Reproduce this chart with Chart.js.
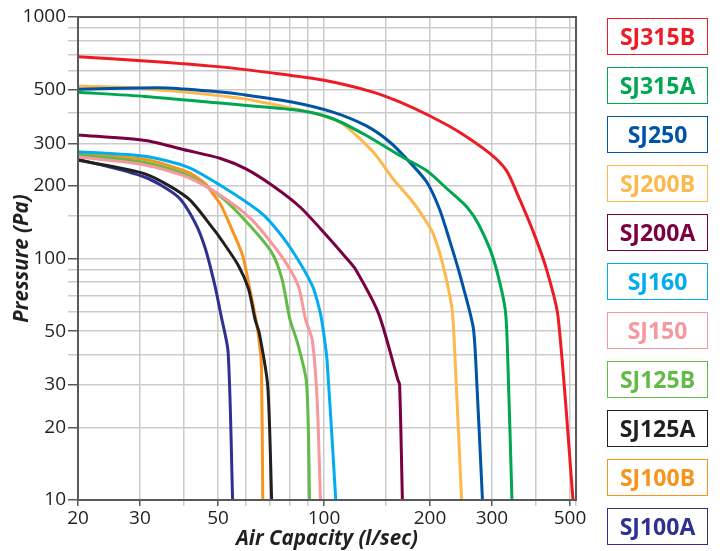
<!DOCTYPE html>
<html>
<head>
<meta charset="utf-8">
<script src="https://cdn.jsdelivr.net/npm/chart.js@4"></script>
<style>
  body { margin: 0; background: #fff; }
  #main { position: relative; width: 722px; height: 551px; }
  #legend-div { position: absolute; left: 607px; top: 18px; }
  .legend-box {
    box-sizing: border-box;
    width: 101px; height: 37px;
    margin-bottom: 12px;
    border: 1.5px solid;
    font-family: 'Open Sans', sans-serif;
    font-weight: bold;
    font-size: 23px;
    line-height: 34px;
    text-align: center;
  }
</style>
</head>
<body>
<div id="main">
  <canvas id="fanCurves" width="722" height="551"></canvas>
  <div id="legend-div"></div>
</div>
<script>

// air capacity (l/sec) and pressure (Pa)
const sj315bX = [20, 31, 50, 71, 100, 137, 164, 200, 242, 297, 330, 356, 394, 429, 462, 510];
const sj315bY = [684, 658, 623, 587, 547, 490, 445, 389, 334, 271, 231, 182, 128, 90, 58, 10];

const sj315aX = [20, 31, 50.5, 85.5, 106, 132, 164, 196, 224, 255, 276, 303, 327, 333, 342];
const sj315aY = [488, 469, 440, 410, 379, 323, 267, 231, 194, 163, 137, 99.5, 62, 37, 10];

const sj250X = [20, 30, 36, 50, 59, 81, 106, 132, 154, 175, 196, 213, 227, 242, 265, 270, 282];
const sj250Y = [502, 508, 508, 490, 477, 445, 404, 354, 303, 251, 207, 160, 120, 88, 52.6, 37, 10];

const sj200bX = [20, 31, 59, 90, 100, 113, 138, 157, 179, 196, 205, 217, 231, 236, 246];
const sj200bY = [518, 505, 459, 405, 389, 361, 276, 214, 171, 141, 125, 96, 62, 37, 10];

const sj200aX = [20, 31, 41, 50.6, 60, 71.5, 85.6, 102, 116, 123, 143, 162, 164, 167];
const sj200aY = [325, 308, 280, 260, 235, 200, 163, 124, 100, 90, 59, 31.6, 30, 10];

const sj160X = [20, 31, 41, 51, 65, 70.6, 80.5, 92.7, 97.5, 99.4, 102, 108];
const sj160Y = [277, 265, 239, 200, 158, 141, 110, 77, 60, 51, 38, 10];

const sj150X = [20, 31, 41, 51, 62, 73, 80.5, 85, 88.6, 92.6, 95.6, 97.7];
const sj150Y = [263, 244, 217, 182, 146, 110, 89, 75, 56, 46, 26, 10];

const sj125bX = [20, 31, 41, 51, 61, 71, 76, 80, 84, 89.2, 91];
const sj125bY = [269, 250, 221, 180, 139, 106, 82, 56, 45, 30.6, 10];

const sj125aX = [20, 31, 41, 48.6, 51, 57, 61, 63.7, 65.5, 69.2, 71];
const sj125aY = [255, 224, 178, 132, 120, 94, 75, 56, 49, 29.6, 10];

const sj100bX = [20, 31, 41, 46, 48, 51, 54.6, 58.7, 61.3, 64, 65.5, 66.4, 67];
const sj100bY = [271, 257, 228, 204, 188, 166, 133, 103, 77, 56, 45, 36, 10];

const sj100aX = [20, 31, 38.5, 43, 46, 49, 51, 53.4, 55];
const sj100aY = [258, 217, 180, 141, 110, 77, 58, 41, 10];

const models = ['SJ315B', 'SJ315A', 'SJ250', 'SJ200B', 'SJ200A', 'SJ160', 'SJ150', 'SJ125B', 'SJ125A', 'SJ100B', 'SJ100A'];
const colors = ['#ed1c24', '#00a651', '#0054a6', '#fdb94e', '#7a0042', '#00aeef', '#f6989d', '#62bb46', '#231f20', '#f7941d', '#2e3192'];
const seriesX = [sj315bX, sj315aX, sj250X, sj200bX, sj200aX, sj160X, sj150X, sj125bX, sj125aX, sj100bX, sj100aX];
const seriesY = [sj315bY, sj315aY, sj250Y, sj200bY, sj200aY, sj160Y, sj150Y, sj125bY, sj125aY, sj100bY, sj100aY];

const xTickLabels = [20, 30, 50, 100, 200, 300, 500];
const yTickLabels = [10, 20, 30, 50, 100, 200, 300, 500, 1000];

const gridColor = '#cbcbce';
const axisColor = '#58595b';

function makePoints(xs, ys) {
  let pts = [];
  for (var i = 0; i < xs.length; i++) {
    pts.push({x: xs[i], y: ys[i]});
  }
  return pts;
}

let datasets = [];
for (var i = 0; i < models.length; i++) {
  datasets.push({
    label: models[i],
    data: makePoints(seriesX[i], seriesY[i]),
    borderColor: colors[i],
    backgroundColor: colors[i],
    borderWidth: 3,
    pointRadius: 0,
    tension: 0.25
  });
}

// box round the whole plot area
const frame = {
  id: 'frame',
  afterDatasetsDraw(chart) {
    const a = chart.chartArea;
    const ctx = chart.ctx;
    ctx.save();
    ctx.strokeStyle = axisColor;
    ctx.lineWidth = 2;
    ctx.strokeRect(a.left, a.top, a.right - a.left, a.bottom - a.top);
    ctx.restore();
  }
};

function buildLegend(chart) {
  let legendDiv = document.getElementById('legend-div');
  chart.data.datasets.forEach(ds => {
    let box = document.createElement('div');
    box.setAttribute('class', 'legend-box');
    box.style.color = ds.borderColor;
    box.style.borderColor = ds.borderColor;
    box.textContent = ds.label;
    legendDiv.appendChild(box);
  });
}

const titleFont = { family: "'Open Sans', sans-serif", size: 20.5, weight: 'bold', style: 'italic' };

const ctx = document.getElementById('fanCurves');
const chart = new Chart(ctx, {
  type: 'line',
  data: { datasets: datasets },
  plugins: [frame],
  options: {
    responsive: false,
    animation: false,
    layout: { padding: { top: 17, right: 146, left: 0, bottom: 0 } },
    plugins: { legend: { display: false }, tooltip: { enabled: false } },
    scales: {
      x: {
        type: 'logarithmic',
        min: 20,
        max: 520,
        afterFit: (scale) => { scale.height = 51; },
        border: { display: false },
        grid: {
          color: gridColor,
          lineWidth: 1.5,
          tickLength: 6,
          tickColor: (c) => xTickLabels.includes(c.tick.value) ? axisColor : gridColor
        },
        ticks: {
          autoSkip: false,
          maxRotation: 0,
          padding: 1,
          color: '#231f20',
          font: { family: "'Open Sans', sans-serif", size: 19 },
          callback: (v) => xTickLabels.includes(v) ? String(v) : ''
        },
        title: {
          display: true,
          text: 'Air Capacity (l/sec)',
          color: '#231f20',
          padding: { top: 0, bottom: 0 },
          font: titleFont
        }
      },
      y: {
        type: 'logarithmic',
        min: 10,
        max: 1000,
        afterFit: (scale) => { scale.width = 78; },
        border: { display: false },
        grid: {
          color: gridColor,
          lineWidth: 1.5,
          tickLength: 10,
          tickColor: (c) => yTickLabels.includes(c.tick.value) ? axisColor : gridColor
        },
        ticks: {
          autoSkip: false,
          padding: 2,
          color: '#231f20',
          font: { family: "'Open Sans', sans-serif", size: 19 },
          callback: (v) => yTickLabels.includes(v) ? String(v) : ''
        },
        title: {
          display: true,
          text: 'Pressure (Pa)',
          color: '#231f20',
          padding: { top: 10, bottom: 0 },
          font: titleFont
        }
      }
    }
  }
});

buildLegend(chart);
</script>
</body>
</html>
